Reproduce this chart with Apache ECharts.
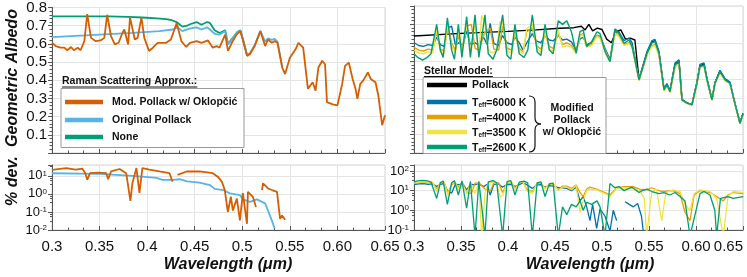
<!DOCTYPE html>
<html><head><meta charset="utf-8">
<script src="https://cdn.jsdelivr.net/npm/echarts@6/dist/echarts.min.js"></script>
<style>html,body{margin:0;padding:0;background:#fff}#c{width:747px;height:277px}</style>
</head><body><div id="c"></div>
<script>
// ---------- tick labels ----------
const wlTicks = ['0.3','0.35','0.4','0.45','0.5','0.55','0.60','0.65'];
const albedoTicks = ['0.0','0.1','0.2','0.3','0.4','0.5','0.6','0.7','0.8'];

// ---------- left top: Raman scattering approx. ----------
const albedoMod = [[0.300,0.606],[0.304,0.588],[0.309,0.579],[0.313,0.579],[0.316,0.565],[0.320,0.583],[0.323,0.565],[0.327,0.579],[0.330,0.565],[0.334,0.615],[0.337,0.764],[0.341,0.633],[0.346,0.615],[0.351,0.619],[0.355,0.633],[0.358,0.760],[0.362,0.642],[0.366,0.597],[0.370,0.606],[0.374,0.660],[0.376,0.679],[0.380,0.597],[0.382,0.746],[0.387,0.624],[0.390,0.633],[0.394,0.746],[0.397,0.633],[0.402,0.561],[0.406,0.579],[0.411,0.606],[0.420,0.606],[0.425,0.624],[0.431,0.715],[0.436,0.615],[0.441,0.583],[0.445,0.606],[0.452,0.615],[0.457,0.606],[0.464,0.619],[0.469,0.579],[0.473,0.588],[0.476,0.579],[0.482,0.651],[0.485,0.561],[0.489,0.606],[0.494,0.651],[0.498,0.670],[0.501,0.615],[0.505,0.534],[0.508,0.543],[0.513,0.588],[0.519,0.670],[0.521,0.673],[0.524,0.588],[0.527,0.624],[0.531,0.606],[0.534,0.615],[0.537,0.606],[0.542,0.470],[0.545,0.434],[0.547,0.443],[0.550,0.524],[0.556,0.570],[0.559,0.606],[0.561,0.615],[0.564,0.579],[0.569,0.353],[0.574,0.389],[0.577,0.343],[0.580,0.470],[0.584,0.507],[0.587,0.488],[0.589,0.280],[0.595,0.267],[0.600,0.262],[0.605,0.380],[0.608,0.479],[0.612,0.497],[0.616,0.407],[0.619,0.353],[0.621,0.298],[0.624,0.380],[0.627,0.398],[0.632,0.443],[0.635,0.407],[0.640,0.389],[0.643,0.316],[0.647,0.153],[0.650,0.207]];
const albedoOrig = [[0.300,0.637],[0.320,0.643],[0.350,0.651],[0.385,0.660],[0.413,0.670],[0.427,0.679],[0.432,0.691],[0.437,0.670],[0.442,0.680],[0.448,0.688],[0.452,0.691],[0.457,0.679],[0.463,0.691],[0.466,0.679],[0.471,0.655],[0.476,0.651],[0.482,0.670],[0.485,0.597],[0.489,0.624],[0.495,0.665],[0.498,0.673],[0.501,0.620],[0.505,0.540],[0.508,0.548],[0.513,0.592],[0.519,0.672],[0.521,0.675],[0.524,0.612],[0.527,0.630],[0.531,0.622],[0.534,0.628],[0.537,0.612],[0.542,0.470]];
const albedoNone = [[0.300,0.751],[0.360,0.751],[0.380,0.748],[0.395,0.745],[0.410,0.740],[0.420,0.736],[0.426,0.730],[0.431,0.720],[0.437,0.695],[0.442,0.700],[0.445,0.708],[0.452,0.720],[0.457,0.705],[0.463,0.720],[0.466,0.715],[0.471,0.675],[0.476,0.660],[0.482,0.675],[0.485,0.600],[0.489,0.626],[0.495,0.667],[0.498,0.675],[0.501,0.618],[0.505,0.537]];

// ---------- left bottom: % deviation ----------
const devOrig = [[0.300,14],[0.350,13],[0.385,10],[0.410,7.7],[0.416,6],[0.427,6],[0.434,6.5],[0.442,5],[0.455,4.2],[0.466,3.1],[0.471,1.9],[0.480,1.64],[0.487,1.07],[0.4975,0.86],[0.5006,0.5],[0.508,0.36],[0.5154,0.5],[0.524,0.3],[0.527,0.12],[0.531,0.034],[0.534,0.012]];
const devMod = [[0.300,21.7],[0.315,27],[0.325,22],[0.332,25],[0.335,14],[0.337,6],[0.340,14],[0.3496,15.3],[0.357,14],[0.359,6.5],[0.362,17.5],[0.371,24],[0.378,14],[0.3824,0.41],[0.3845,3.9],[0.3887,27],[0.3919,1.15],[0.395,27],[0.4024,22],[0.413,17.5],[0.4235,14],[0.4267,4.8],[0.429,null],[0.432,11.4],[0.4415,17.5],[0.4552,17.5],[0.469,14],[0.4742,9],[0.4785,4.8],[0.4816,1.64],[0.4848,0.1],[0.488,0.7],[0.4901,0.12],[0.4943,0.55],[0.4975,0.034],[0.5006,1.1],[0.5049,0.022],[0.5059,1.3],[0.508,1.3],[0.5112,0.68],[0.5144,0.19],[0.517,null],[0.5207,1.64],[0.5218,3.9],[0.527,2.0],[0.5313,1.64],[0.5365,1.3],[0.5397,0.042],[0.5418,0.064],[0.545,0.037]];

// ---------- right top: stellar models ----------
const albedoPollack = [[0.300,0.637],[0.350,0.651],[0.400,0.662],[0.430,0.670],[0.455,0.679],[0.470,0.682],[0.478,0.690],[0.482,0.670],[0.486,0.700],[0.490,0.665],[0.495,0.680],[0.500,0.672],[0.505,0.620],[0.510,0.600],[0.515,0.660],[0.520,0.670],[0.525,0.620],[0.530,0.625],[0.535,0.615],[0.5394,0.400],[0.5426,0.455],[0.5479,0.545],[0.5532,0.605],[0.5564,0.610],[0.5606,0.545],[0.566,0.345],[0.5691,0.373],[0.5723,0.336],[0.5777,0.482],[0.5819,0.500],[0.5851,0.290],[0.5904,0.272],[0.5957,0.263],[0.601,0.383],[0.6042,0.474],[0.6085,0.483],[0.6117,0.400],[0.617,0.290],[0.6202,0.382],[0.6255,0.446],[0.6309,0.400],[0.6362,0.382],[0.6404,0.290],[0.6468,0.162],[0.650,0.215]];
const albedo6000 = [[0.300,0.600],[0.305,0.585],[0.310,0.580],[0.315,0.590],[0.320,0.585],[0.3241,0.630],[0.328,0.590],[0.332,0.580],[0.336,0.680],[0.340,0.690],[0.344,0.590],[0.348,0.600],[0.352,0.585],[0.356,0.665],[0.360,0.590],[0.365,0.600],[0.369,0.585],[0.374,0.630],[0.378,0.590],[0.381,0.705],[0.385,0.595],[0.390,0.585],[0.394,0.640],[0.399,0.600],[0.404,0.590],[0.4074,0.630],[0.412,0.600],[0.416,0.560],[0.420,0.600],[0.4259,0.650],[0.430,0.610],[0.435,0.600],[0.4394,0.640],[0.444,0.615],[0.448,0.610],[0.4535,0.640],[0.458,0.615],[0.4625,0.620],[0.4675,0.605],[0.4725,0.560],[0.4766,0.620],[0.480,0.630],[0.4837,0.590],[0.489,0.600],[0.4947,0.640],[0.4979,0.635],[0.5032,0.570],[0.5085,0.510],[0.5138,0.675],[0.518,0.660],[0.5234,0.612],[0.5287,0.625],[0.532,0.600],[0.5394,0.405],[0.5426,0.460],[0.5479,0.552],[0.5532,0.612],[0.5564,0.618],[0.5606,0.552],[0.566,0.350],[0.5691,0.378],[0.5723,0.340],[0.5777,0.490],[0.5819,0.507],[0.5851,0.292],[0.5904,0.273],[0.5957,0.264],[0.601,0.385],[0.6042,0.482],[0.6085,0.490],[0.6117,0.405],[0.617,0.292],[0.6202,0.384],[0.6255,0.450],[0.6309,0.405],[0.6362,0.386],[0.6404,0.292],[0.6468,0.164],[0.650,0.215]];
const albedo4000 = [[0.300,0.575],[0.305,0.560],[0.310,0.555],[0.315,0.565],[0.320,0.560],[0.3241,0.660],[0.328,0.565],[0.332,0.555],[0.336,0.690],[0.340,0.600],[0.344,0.560],[0.3472,0.640],[0.351,0.560],[0.356,0.690],[0.361,0.700],[0.365,0.570],[0.369,0.560],[0.3755,0.660],[0.381,0.680],[0.385,0.565],[0.390,0.560],[0.3943,0.690],[0.399,0.570],[0.404,0.560],[0.4074,0.650],[0.412,0.570],[0.416,0.550],[0.4199,0.660],[0.4259,0.680],[0.431,0.580],[0.435,0.565],[0.4394,0.650],[0.444,0.580],[0.448,0.570],[0.4535,0.650],[0.458,0.590],[0.4625,0.600],[0.4675,0.585],[0.4725,0.545],[0.4766,0.640],[0.480,0.650],[0.4837,0.580],[0.489,0.590],[0.4947,0.640],[0.4979,0.630],[0.5032,0.560],[0.5085,0.500],[0.5138,0.655],[0.518,0.640],[0.5234,0.590],[0.5287,0.600],[0.532,0.580],[0.5394,0.395],[0.5426,0.450],[0.5479,0.535],[0.5532,0.585],[0.5564,0.590],[0.5606,0.535],[0.566,0.340],[0.5691,0.368],[0.5723,0.332],[0.5777,0.470],[0.5819,0.488],[0.5851,0.288],[0.5904,0.270],[0.5957,0.262],[0.601,0.378],[0.6042,0.468],[0.6085,0.476],[0.6117,0.396],[0.617,0.288],[0.6202,0.378],[0.6255,0.438],[0.6309,0.396],[0.6362,0.378],[0.6404,0.288],[0.6468,0.160],[0.650,0.210]];
const albedo3500 = [[0.300,0.560],[0.305,0.545],[0.310,0.540],[0.315,0.550],[0.320,0.545],[0.3241,0.680],[0.328,0.550],[0.332,0.540],[0.336,0.705],[0.340,0.580],[0.344,0.545],[0.3472,0.670],[0.351,0.545],[0.356,0.700],[0.360,0.560],[0.3649,0.700],[0.369,0.550],[0.372,0.750],[0.3755,0.700],[0.379,0.560],[0.384,0.545],[0.388,0.560],[0.3915,0.715],[0.3943,0.710],[0.399,0.555],[0.404,0.545],[0.4074,0.670],[0.412,0.555],[0.416,0.540],[0.4199,0.675],[0.4259,0.700],[0.431,0.565],[0.435,0.550],[0.4394,0.660],[0.444,0.565],[0.448,0.555],[0.4535,0.670],[0.458,0.575],[0.4625,0.585],[0.4675,0.575],[0.4725,0.540],[0.4766,0.635],[0.480,0.645],[0.4837,0.575],[0.489,0.585],[0.4947,0.635],[0.4979,0.625],[0.5032,0.555],[0.5085,0.498],[0.5138,0.650],[0.518,0.635],[0.5234,0.585],[0.5287,0.595],[0.532,0.575],[0.5394,0.393],[0.5426,0.448],[0.5479,0.532],[0.5532,0.580],[0.5564,0.585],[0.5606,0.532],[0.566,0.338],[0.5691,0.366],[0.5723,0.330],[0.5777,0.468],[0.5819,0.485],[0.5851,0.287],[0.5904,0.269],[0.5957,0.261],[0.601,0.376],[0.6042,0.465],[0.6085,0.473],[0.6117,0.394],[0.617,0.287],[0.6202,0.376],[0.6255,0.435],[0.6309,0.394],[0.6362,0.376],[0.6404,0.287],[0.6468,0.159],[0.650,0.208]];
const albedo2600 = [[0.300,0.540],[0.304,0.520],[0.309,0.505],[0.314,0.520],[0.318,0.540],[0.3241,0.700],[0.328,0.560],[0.331,0.520],[0.3355,0.735],[0.340,0.560],[0.343,0.510],[0.3472,0.700],[0.351,0.520],[0.356,0.742],[0.360,0.520],[0.3649,0.752],[0.369,0.520],[0.3755,0.752],[0.379,0.540],[0.384,0.510],[0.388,0.560],[0.3943,0.752],[0.399,0.530],[0.403,0.510],[0.4074,0.700],[0.412,0.540],[0.417,0.520],[0.421,0.560],[0.4259,0.752],[0.431,0.550],[0.435,0.530],[0.4394,0.700],[0.444,0.560],[0.448,0.540],[0.4535,0.720],[0.458,0.700],[0.4625,0.720],[0.4675,0.660],[0.4725,0.543],[0.4766,0.660],[0.480,0.670],[0.4837,0.579],[0.489,0.606],[0.4947,0.660],[0.4979,0.650],[0.5032,0.552],[0.5085,0.497],[0.5138,0.670],[0.518,0.651],[0.5234,0.597],[0.5287,0.615],[0.532,0.579],[0.5394,0.398],[0.5426,0.452],[0.5479,0.543],[0.5532,0.600],[0.5564,0.606],[0.5606,0.543],[0.566,0.343],[0.5691,0.371],[0.5723,0.334],[0.5777,0.479],[0.5819,0.497],[0.5851,0.289],[0.5904,0.271],[0.5957,0.262],[0.601,0.380],[0.6042,0.470],[0.6085,0.479],[0.6117,0.398],[0.617,0.289],[0.6202,0.380],[0.6255,0.443],[0.6309,0.398],[0.6362,0.380],[0.6404,0.289],[0.6468,0.162],[0.650,0.212]];

// ---------- right bottom: % deviation ----------
const dev6000 = [[0.300,20],[0.305,22],[0.310,23],[0.315,21],[0.320,22],[0.3241,16],[0.328,21],[0.332,23],[0.336,9],[0.340,7.5],[0.344,21],[0.348,20],[0.352,22],[0.356,11],[0.360,21],[0.365,20],[0.369,22],[0.374,16],[0.378,21],[0.381,6],[0.385,21],[0.390,22],[0.394,15],[0.399,20],[0.404,21],[0.4074,16],[0.412,20],[0.416,25],[0.420,20],[0.4259,13],[0.430,19],[0.435,20],[0.4394,15],[0.444,18],[0.448,17],[0.4535,14],[0.458,14],[0.4625,13],[0.4675,10],[0.4725,15],[0.4766,3],[0.480,5],[0.4837,1.5],[0.4872,0.3],[0.490,2],[0.4943,0.12],[0.4979,1.2],[0.5032,0.5],[0.5085,0.09],[0.512,1],[0.5156,0.3],[0.518,null],[0.5245,2.7],[0.529,2.0],[0.5333,1.5],[0.538,2.2],[0.542,0.5],[0.544,0.08]];
const dev4000 = [[0.300,23],[0.305,25],[0.310,26],[0.315,25],[0.320,25],[0.3241,12],[0.328,25],[0.332,26],[0.336,8],[0.340,20],[0.344,25],[0.3472,15],[0.351,25],[0.356,8],[0.361,7],[0.365,24],[0.369,25],[0.3755,12],[0.381,9],[0.385,25],[0.390,25],[0.3943,8],[0.399,24],[0.404,25],[0.4074,13],[0.412,24],[0.416,27],[0.4199,12],[0.4259,9],[0.431,23],[0.435,25],[0.4394,13],[0.444,22],[0.448,22],[0.4535,11],[0.458,17],[0.4625,17],[0.4675,13],[0.4725,19],[0.4766,8],[0.480,5],[0.4837,12],[0.4872,15],[0.4943,12],[0.4979,10],[0.5032,8],[0.5085,6],[0.5156,14],[0.5245,16],[0.5333,16],[0.540,12],[0.5475,11],[0.5528,14],[0.5635,9],[0.5759,10],[0.583,7],[0.5883,0.8],[0.5936,0.3],[0.598,6],[0.6043,10],[0.6149,8],[0.622,5],[0.629,3],[0.634,6],[0.6397,8],[0.6503,7]];
const dev3500 = [[0.300,25],[0.305,27],[0.310,28],[0.315,27],[0.320,27],[0.3241,9],[0.328,27],[0.332,28],[0.336,6],[0.340,23],[0.344,27],[0.3472,11],[0.351,27],[0.356,7],[0.360,25],[0.3649,7],[0.369,27],[0.372,0.05],[0.3755,7],[0.379,25],[0.384,27],[0.388,25],[0.3915,4.8],[0.3943,5.5],[0.399,26],[0.404,27],[0.4074,11],[0.412,26],[0.416,28],[0.4199,10],[0.4259,7],[0.431,25],[0.435,27],[0.4394,12],[0.444,23],[0.448,23],[0.4535,10],[0.458,15],[0.4625,15],[0.4675,11],[0.4725,18],[0.4766,0.8],[0.480,3],[0.4837,10],[0.4872,12],[0.4943,11],[0.4979,9],[0.5032,7],[0.5085,5],[0.5156,13],[0.5245,14],[0.5333,13],[0.540,10],[0.545,4],[0.5475,0.05],[0.5528,8],[0.558,12],[0.5635,0.3],[0.568,8],[0.5759,11],[0.583,9],[0.5883,2],[0.5936,1],[0.598,7],[0.6043,11],[0.6149,9],[0.622,4],[0.629,0.05],[0.634,5],[0.6397,9],[0.6503,8]];
const dev2600 = [[0.300,28],[0.304,31],[0.309,33],[0.314,31],[0.318,28],[0.3241,4],[0.328,25],[0.331,31],[0.3355,2],[0.340,25],[0.343,32],[0.3472,6],[0.351,31],[0.356,1.3],[0.360,30],[0.3649,0.05],[0.369,30],[0.3755,0.05],[0.379,28],[0.384,32],[0.388,25],[0.3943,0.05],[0.399,29],[0.403,32],[0.4074,6],[0.412,27],[0.417,30],[0.421,25],[0.4259,0.05],[0.431,25],[0.435,28],[0.4394,5],[0.444,22],[0.448,24],[0.4535,0.05],[0.458,1.5],[0.4625,0.6],[0.4675,2],[0.4725,1.5],[0.4766,3],[0.480,1],[0.4837,2.5],[0.489,2],[0.4947,3],[0.4979,1.5],[0.5032,0.05],[0.5085,23],[0.5138,14],[0.518,16],[0.5234,10],[0.5287,13],[0.532,15],[0.5394,8],[0.5426,10],[0.5479,12],[0.5532,9],[0.5606,7],[0.566,8],[0.5723,6],[0.5777,8],[0.583,5],[0.5883,3],[0.5936,0.05],[0.5954,0.05],[0.6043,7],[0.6085,9],[0.6149,6],[0.620,1],[0.622,0.05],[0.626,4],[0.634,5],[0.6397,4],[0.6503,5]];

// ---------- colours ----------
const C = {mod:'#D55E00', orig:'#56B4E9', none:'#009E73', pollack:'#000000', t6000:'#0072B2', t4000:'#E69F00', t3500:'#F0E442', t2600:'#009E73'};
const FONT = '"Liberation Sans", Arial, Helvetica, sans-serif';

const chart = echarts.init(document.getElementById('c'));

const gridDefs = [
  {left:52, top:6, width:333, height:147},
  {left:414, top:6, width:329, height:147},
  {left:52, top:165, width:333, height:65},
  {left:414, top:165, width:329, height:65}
];
const grid = gridDefs.map(g => Object.assign({show:true, borderColor:'#d4d4d4', borderWidth:1, backgroundColor:'#fff'}, g));

function xAx(i, labels){
  const ax = {type:'value', gridIndex:i, min:0.3, max:0.65, interval:0.05,
    axisLine:{show:true, onZero:false, lineStyle:{color:'#555', width:1}},
    axisTick:{show:true, inside:true, length:4, lineStyle:{color:'#555'}},
    minorTick:{show:true, splitNumber:3, length:2.5, lineStyle:{color:'#555'}},
    splitLine:{show:true, lineStyle:{color:'#e4e4e4'}},
    axisLabel:{show:labels, margin:9, fontSize:15, color:'#111', fontFamily:FONT,
      formatter:v => wlTicks[Math.round((v-0.3)/0.05)]}};
  if (i===3) ax.axisLabel.alignMaxLabel = 'right';
  return ax;
}
function yTop(i, labels){
  return {type:'value', gridIndex:i, min:0, max:0.8, interval:0.1,
    axisLine:{show:true, onZero:false, lineStyle:{color:'#555'}},
    axisTick:{show:true, length:4, lineStyle:{color:'#555'}},
    minorTick:{show:true, splitNumber:5, length:2.5, lineStyle:{color:'#555'}},
    splitLine:{show:true, lineStyle:{color:'#e4e4e4'}},
    axisLabel:{show:labels, showMinLabel:false, margin:5, fontSize:15, color:'#111', fontFamily:FONT,
      formatter:v => albedoTicks[Math.round(v*10)]}};
}
function yLog(i, mn, mx){
  return {type:'log', logBase:10, gridIndex:i, min:mn, max:mx,
    axisLine:{show:true, onZero:false, lineStyle:{color:'#555'}},
    axisTick:{show:true, length:4, lineStyle:{color:'#555'}},
    minorTick:{show:true, splitNumber:4, length:2, lineStyle:{color:'#555'}},
    splitLine:{show:true, lineStyle:{color:'#e4e4e4'}},
    axisLabel:{margin:5, fontSize:13, color:'#111', fontFamily:FONT,
      formatter:v => { const e = Math.log10(v); if (Math.abs(e-Math.round(e))>1e-6) return ''; return '10{s|'+Math.round(e)+'}'; },
      rich:{s:{fontSize:8, verticalAlign:'top', lineHeight:10, fontFamily:FONT, color:'#111'}}}};
}

function ln(data, color, xi, w){
  return {type:'line', data:data, xAxisIndex:xi, yAxisIndex:xi, showSymbol:false, connectNulls:false,
    lineStyle:{color:color, width:w||1.6}, itemStyle:{color:color}, animation:false, silent:true};
}

// legend graphics
const lg = [];
function measure(t, f){ const c=document.createElement('canvas').getContext('2d'); c.font=f; return c.measureText(t).width; }
const LF = 'bold 10.5px ' + FONT;
function txt(x,y,t){ return {type:'text', x:x, y:y, z:100, style:{text:t, font:LF, fill:'#111', align:'left', verticalAlign:'middle'}}; }
function seg(x1,x2,y,col){ return {type:'line', z:100, shape:{x1:x1,y1:y,x2:x2,y2:y}, style:{stroke:col, lineWidth:4.5}}; }

// left legend
lg.push(txt(62,81,'Raman Scattering Approx.:'));
lg.push({type:'line', z:100, shape:{x1:62,y1:87,x2:62+measure('Raman Scattering Approx.:',LF),y2:87}, style:{stroke:'#111', lineWidth:1}});
lg.push({type:'rect', z:99, shape:{x:61,y:88.5,width:183,height:59}, style:{fill:'#fff', stroke:'#999', lineWidth:1}});
[['Mod. Pollack w/ Oklopčić',C.mod,102],['Original Pollack',C.orig,120],['None',C.none,137]].forEach(e=>{
  lg.push(seg(65,103,e[2],e[1])); lg.push(txt(112,e[2],e[0]));
});
// right legend
lg.push(txt(424,71,'Stellar Model:'));
lg.push({type:'line', z:100, shape:{x1:424,y1:76.5,x2:424+measure('Stellar Model:',LF),y2:76.5}, style:{stroke:'#111', lineWidth:1}});
lg.push({type:'rect', z:99, shape:{x:423,y:77.5,width:183,height:76}, style:{fill:'#fff', stroke:'#999', lineWidth:1}});
lg.push(seg(427,467,85,C.pollack)); lg.push(txt(472,85,'Pollack'));
[['6000',C.t6000,102],['4000',C.t4000,117],['3500',C.t3500,132],['2600',C.t2600,147]].forEach(e=>{
  lg.push(seg(427,467,e[2],e[1]));
  lg.push({type:'text', x:472, y:e[2], z:100, style:{text:'{a|T}{b|eff}{a|='+e[0]+' K}', align:'left', verticalAlign:'middle',
    rich:{a:{font:LF, fill:'#111', lineHeight:13, verticalAlign:'bottom'}, b:{font:'bold 6.5px '+FONT, fill:'#111', lineHeight:13, verticalAlign:'bottom'}}}});
});
// curly brace
const BS = {stroke:'#111', fill:null, lineWidth:1.2};
lg.push({type:'bezierCurve', z:100, shape:{x1:529,y1:96,cpx1:535,cpy1:96,x2:535,y2:102}, style:BS});
lg.push({type:'line', z:100, shape:{x1:535,y1:102,x2:535,y2:118}, style:BS});
lg.push({type:'bezierCurve', z:100, shape:{x1:535,y1:118,cpx1:535,cpy1:124,x2:541,y2:124}, style:BS});
lg.push({type:'bezierCurve', z:100, shape:{x1:541,y1:124,cpx1:535,cpy1:124,x2:535,y2:130}, style:BS});
lg.push({type:'line', z:100, shape:{x1:535,y1:130,x2:535,y2:146}, style:BS});
lg.push({type:'bezierCurve', z:100, shape:{x1:535,y1:146,cpx1:535,cpy1:152,x2:529,y2:152}, style:BS});
[['Modified',108],['Pollack',120],['w/ Oklopčić',132]].forEach(e=>{
  lg.push({type:'text', x:572, y:e[1], z:100, style:{text:e[0], font:LF, fill:'#111', align:'center', verticalAlign:'middle'}});
});
// axis titles
const TF = 'italic bold 16px ' + FONT;
lg.push({type:'text', x:13, y:78, rotation:Math.PI/2, z:100, style:{text:'Geometric Albedo', font:TF, fill:'#111', align:'center', verticalAlign:'middle'}});
lg.push({type:'text', x:13, y:181, rotation:Math.PI/2, z:100, style:{text:'% dev.', font:TF, fill:'#111', align:'center', verticalAlign:'middle'}});
lg.push({type:'text', x:228, y:265, z:100, style:{text:'Wavelength (μm)', font:TF, fill:'#111', align:'center', verticalAlign:'middle'}});
lg.push({type:'text', x:590, y:265, z:100, style:{text:'Wavelength (μm)', font:TF, fill:'#111', align:'center', verticalAlign:'middle'}});

chart.setOption({
  animation:false,
  backgroundColor:'#fff',
  grid: grid,
  xAxis:[xAx(0,false), xAx(1,false), xAx(2,true), xAx(3,true)],
  yAxis:[yTop(0,true), yTop(1,false), yLog(2,0.01,40), yLog(3,0.1,200)],
  series:[
    ln(albedoNone, C.none, 0, 1.8), ln(albedoOrig, C.orig, 0, 1.8), ln(albedoMod, C.mod, 0, 1.8),
    ln(albedoPollack, C.pollack, 1, 1.4), ln(albedo6000, C.t6000, 1, 1.4), ln(albedo4000, C.t4000, 1, 1.4), ln(albedo3500, C.t3500, 1, 1.4), ln(albedo2600, C.t2600, 1, 1.4),
    ln(devOrig, C.orig, 2, 1.8), ln(devMod, C.mod, 2, 1.8),
    ln(dev6000, C.t6000, 3, 1.3), ln(dev4000, C.t4000, 3, 1.3), ln(dev3500, C.t3500, 3, 1.3), ln(dev2600, C.t2600, 3, 1.3)
  ],
  graphic: lg
});
</script></body></html>
